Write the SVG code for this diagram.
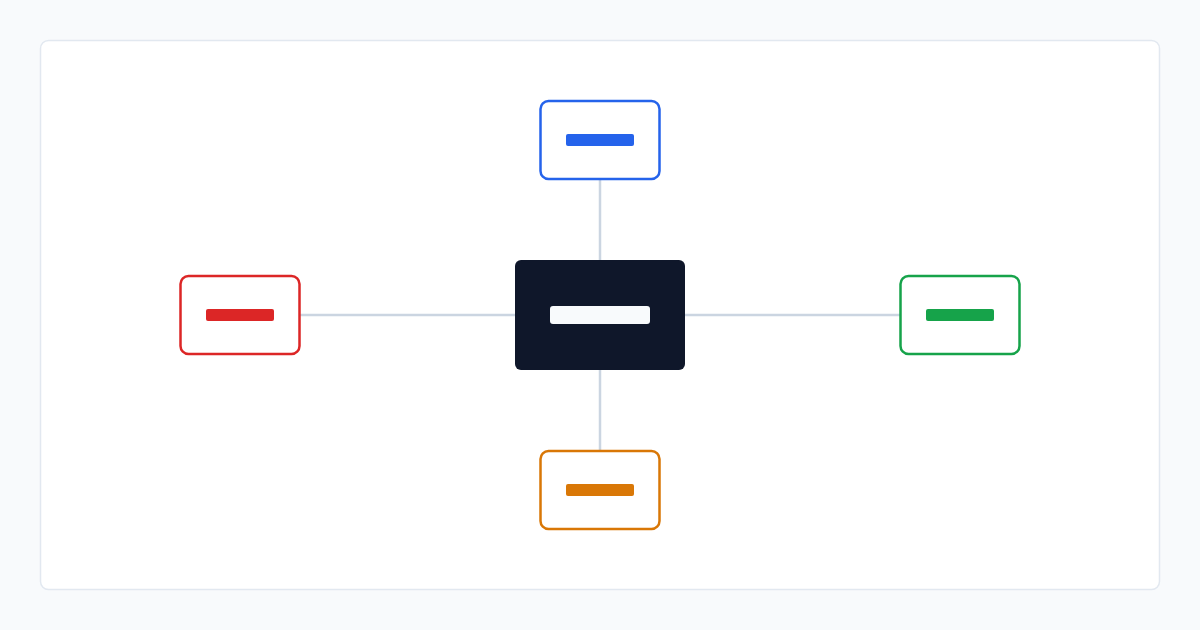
<svg xmlns="http://www.w3.org/2000/svg" width="1200" height="630" viewBox="0 0 1200 630">
<style>
.node{fill:#ffffff;stroke-width:2.5}
.bar{stroke:none}
.conn{stroke:#cbd5e1;stroke-width:2.5;fill:none}
</style>
<rect x="0" y="0" width="1200" height="630" fill="#f8fafc"/>
<rect x="40.5" y="40.5" width="1119" height="549" rx="8" fill="#ffffff" stroke="#e2e8f0" stroke-width="1.5"/>
<g id="connectors">
<line class="conn" x1="600" y1="180" x2="600" y2="260"/>
<line class="conn" x1="600" y1="370" x2="600" y2="450"/>
<line class="conn" x1="300" y1="315" x2="515" y2="315"/>
<line class="conn" x1="685" y1="315" x2="900" y2="315"/>
</g>
<g id="center">
<rect x="515" y="260" width="170" height="110" rx="6" fill="#0f172a"/>
<rect class="bar" x="550" y="306" width="100" height="18" rx="3" fill="#f8fafc"/>
</g>
<g id="top">
<rect class="node" x="540.5" y="101" width="119" height="78" rx="8" stroke="#2563eb"/>
<rect class="bar" x="566" y="134" width="68" height="12" rx="2" fill="#2563eb"/>
</g>
<g id="left">
<rect class="node" x="180.5" y="276" width="119" height="78" rx="8" stroke="#dc2626"/>
<rect class="bar" x="206" y="309" width="68" height="12" rx="2" fill="#dc2626"/>
</g>
<g id="right">
<rect class="node" x="900.5" y="276" width="119" height="78" rx="8" stroke="#16a34a"/>
<rect class="bar" x="926" y="309" width="68" height="12" rx="2" fill="#16a34a"/>
</g>
<g id="bottom">
<rect class="node" x="540.5" y="451" width="119" height="78" rx="8" stroke="#d97706"/>
<rect class="bar" x="566" y="484" width="68" height="12" rx="2" fill="#d97706"/>
</g>
</svg>
